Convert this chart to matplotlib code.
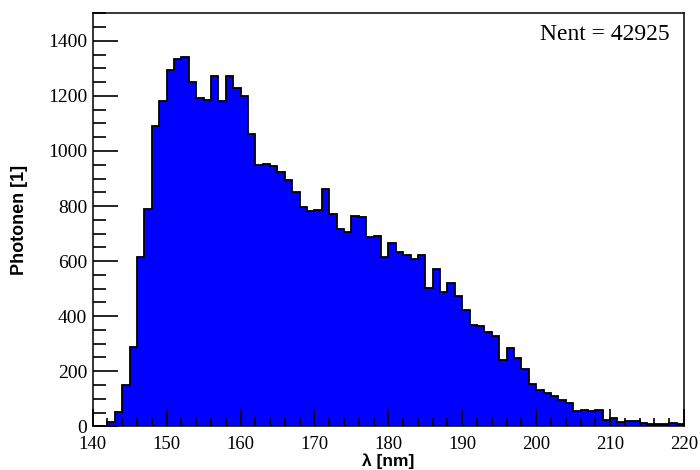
import numpy as np
import matplotlib.pyplot as plt
from matplotlib.ticker import MultipleLocator

# 1 nm bins from 140 to 220 nm
bin_edges = np.arange(140, 221, 1)
counts = [
    0, 0, 17, 51, 150, 288, 616, 789, 1092, 1182,          # 140-149
    1293, 1333, 1343, 1251, 1192, 1184, 1271, 1182, 1271, 1227,  # 150-159
    1198, 1062, 948, 952, 944, 924, 896, 851, 796, 782,    # 160-169
    786, 862, 770, 716, 705, 762, 760, 686, 691, 615,      # 170-179
    664, 633, 622, 606, 622, 502, 573, 488, 520, 473,      # 180-189
    422, 368, 363, 341, 329, 242, 283, 248, 208, 154,      # 190-199
    133, 120, 111, 95, 83, 57, 58, 56, 58, 23,             # 200-209
    31, 14, 18, 20, 12, 8, 9, 9, 12, 10,                   # 210-219
]
n_entries = 42925

fig = plt.figure(figsize=(7, 4.7), dpi=100)
ax = fig.add_axes([92.7 / 700, 1 - 426.3 / 470, (684 - 92.7) / 700, (426.3 - 13.3) / 470])

ax.stairs(counts, bin_edges, fill=True, color="#0000ff", linewidth=0)
ax.stairs(counts, bin_edges, fill=False, color="black", linewidth=1.3)

ax.set_xlim(140, 220)
ax.set_ylim(0, 1500)

ax.xaxis.set_major_locator(MultipleLocator(10))
ax.xaxis.set_minor_locator(MultipleLocator(2))
ax.yaxis.set_major_locator(MultipleLocator(200))
ax.yaxis.set_minor_locator(MultipleLocator(50))
ax.tick_params(which="both", direction="in", top=False, right=False, width=1.2)
ax.tick_params(axis="y", which="major", length=18, pad=4)
ax.tick_params(axis="y", which="minor", length=9)
ax.tick_params(axis="x", which="major", length=12, pad=7)
ax.tick_params(axis="x", which="minor", length=6)

for lbl in ax.get_xticklabels() + ax.get_yticklabels():
    lbl.set_fontfamily("Liberation Serif")
    lbl.set_fontsize(14)
for lbl in ax.get_xticklabels():
    lbl.set_fontsize(13.5)

for sp in ax.spines.values():
    sp.set_linewidth(1.1)

ax.set_xlabel("λ [nm]", fontsize=12.5, fontweight="bold", family="Liberation Sans", labelpad=0)
ax.set_ylabel("Photonen [1]", fontsize=13, fontweight="bold", family="Liberation Sans", labelpad=14)

ax.text(0.976, 0.948, f"Nent = {n_entries}", transform=ax.transAxes, ha="right", va="center",
        fontsize=17, family="Liberation Serif")

fig.savefig("out.png", dpi=100)
